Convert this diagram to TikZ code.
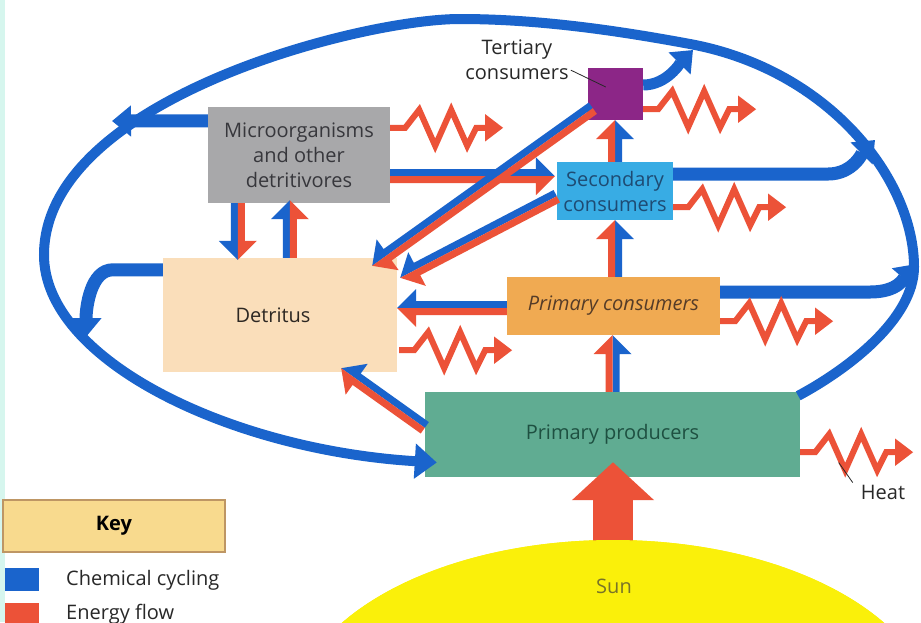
\documentclass[tikz,border=0pt]{standalone}
\usepackage{fontspec}
\setmainfont{Open Sans}
\usetikzlibrary{calc,arrows.meta,shapes.geometric}

\definecolor{chem}{RGB}{26,100,204}
\definecolor{energy}{RGB}{236,82,56}
\definecolor{microfill}{RGB}{168,168,170}
\definecolor{detfill}{RGB}{250,222,186}
\definecolor{tertfill}{RGB}{140,38,135}
\definecolor{secfill}{RGB}{56,172,228}
\definecolor{pcfill}{RGB}{240,170,82}
\definecolor{ppfill}{RGB}{96,172,146}
\definecolor{sunfill}{RGB}{250,240,10}
\definecolor{keyfill}{RGB}{248,218,142}
\definecolor{keyline}{RGB}{190,150,100}
\definecolor{edgestrip}{RGB}{214,246,238}
\definecolor{microtext}{RGB}{55,55,60}
\definecolor{dettext}{RGB}{45,40,35}
\definecolor{sectext}{RGB}{30,75,115}
\definecolor{pctext}{RGB}{85,60,40}
\definecolor{pptext}{RGB}{30,80,65}
\definecolor{suntext}{RGB}{120,115,40}
\definecolor{labeltext}{RGB}{40,40,40}

\tikzset{
  box/.style={rectangle, inner sep=0pt, align=center,
    font=\fontsize{20}{25}\selectfont},
  label/.style={inner sep=0pt, align=center, text=labeltext,
    font=\fontsize{20}{25}\selectfont},
  chemarrow/.style={draw=chem, line width=#1,
    -{Triangle[width=30pt,length=19pt]}},
  heatline/.style={draw=energy, line width=6pt, line join=miter,
    miter limit=10, -{Triangle[width=26pt,length=18pt]}},
  leader/.style={draw=labeltext, line width=0.8pt}
}

% paired flow: blue (chemicals) on one side of the axis, red (energy) on the other
\newcommand\duoarrow[4]{%
  \coordinate (da-a) at #1;
  \coordinate (da-b) at #2;
  \coordinate (da-q) at ($(da-b)!19pt!(da-a)$);
  \fill[chem] (da-a) -- ($(da-a)!7pt!#3:(da-b)$) -- ($(da-q)!7pt!#3:(da-b)$)
     -- ($(da-q)!19pt!#3:(da-b)$) -- (da-b) -- cycle;
  \fill[energy] (da-a) -- ($(da-a)!7pt!#4:(da-b)$) -- ($(da-q)!7pt!#4:(da-b)$)
     -- ($(da-q)!19pt!#4:(da-b)$) -- (da-b) -- cycle;
}

% zigzag heat loss arrow leaving a box
\newcommand\heatarrow[1]{%
  \draw[heatline] #1 -- ++(15,0) -- ++(14,-18) -- ++(16,36) -- ++(16,-36)
     -- ++(16,36) -- ++(9,-18) -- ++(27,0);
}

\begin{document}
\begin{tikzpicture}[x=1pt,y=-1pt]
\useasboundingbox (0,0) rectangle (921,622);
\clip (0,0) rectangle (921,622);
\fill[white] (0,0) rectangle (921,622);
\fill[edgestrip] (0,0) rectangle (5,622);

% trophic levels
\node[box, fill=microfill, text=microtext, minimum width=182pt, minimum height=96pt]
  (micro) at (299,155) {Microorganisms\\and other\\detritivores};
\node[box, fill=detfill, text=dettext, minimum width=234pt, minimum height=114pt]
  (det) at (280,315) {Detritus\hspace*{14pt}};
\node[box, fill=tertfill, minimum width=55pt, minimum height=52pt]
  (tert) at (615.5,94) {};
\node[box, fill=secfill, text=sectext, minimum width=116pt, minimum height=58pt]
  (sec) at (615,191) {Secondary\\consumers};
\node[box, fill=pcfill, text=pctext, minimum width=213pt, minimum height=58pt]
  (pc) at (613.5,306) {\itshape Primary consumers};
\node[box, fill=ppfill, text=pptext, minimum width=375pt, minimum height=85pt]
  (pp) at (612.5,434.5) {Primary producers};

% the sun and its light
\node[ellipse, fill=sunfill, minimum width=644pt, minimum height=360pt, inner sep=0pt]
  (sun) at (613,720) {};
\draw[draw=energy, line width=40pt, -{Triangle[width=80pt,length=38pt]}]
  ($(sun.north)+(0,8)$) -- ($(pp.south)+(0.5,-15)$);
\fill[sunfill] (613,720) ellipse [x radius=322pt, y radius=180pt];
\node[label, text=suntext] (sunlabel) at (614,586) {Sun};

% outer loop of chemical cycling, back to the producers
\coordinate (loopstart) at ($(pp.north east)+(-2,4)$);
\coordinate (loopend) at ($(pp.west)+(12,28)$);
\draw[chem, line width=10pt, -{Triangle[width=34pt,length=22pt]}]
  (loopstart) .. controls (850,368) and (914,318) .. (914,267)
  .. controls (914,180) and (830,70) .. (690,44)
  .. controls (620,31) and (540,19) .. (460,19)
  .. controls (360,19) and (44,100) .. (44,255)
  .. controls (44,360) and (230,450) .. (loopend);

% returns to the outer loop
\coordinate (e1) at (112,121);
\coordinate (e2) at (86,337);
\coordinate (e3) at (693,50);
\coordinate (e4) at (875,140);
\coordinate (e5) at (916,264);
\draw[chemarrow=13pt] ($(micro.north west)+(0,14)$) -- (e1);
\draw[chemarrow=13pt] ($(det.north west)+(0,12)$) -- ++(-50,0)
  .. controls +(-22,0) and +(0,-30) .. (e2);
\draw[chemarrow=11pt] ($(tert.east)+(0,-9)$) .. controls +(24,0) and +(-12,12) .. (e3);
\draw[chemarrow=13pt] ($(sec.east)+(0,-17)$) -- ++(155,0)
  .. controls +(25,0) and +(-12,12) .. (e4);
\draw[chemarrow=13pt] ($(pc.east)+(0,-14)$) -- ++(150,0)
  .. controls +(28,0) and +(-12,14) .. (e5);

% paired flows of chemicals and energy
\duoarrow{($(micro.south west)+(30,0)$)}{($(det.north west)+(75,2)$)}{-90}{90}
\duoarrow{($(det.north west)+(127,0)$)}{($(micro.south west)+(82,-3)$)}{90}{-90}
\duoarrow{($(micro.south east)+(0,-27)$)}{($(sec.south west)+(-2,-44)$)}{90}{-90}
\duoarrow{($(tert.south west)+(5,-12)$)}{($(det.north east)+(-25,8)$)}{-90}{90}
\duoarrow{($(sec.south west)+(0,-24)$)}{($(det.north east)+(3,20)$)}{-90}{90}
\duoarrow{($(pc.west)+(0,2)$)}{($(det.east)+(0,-7)$)}{-90}{90}
\duoarrow{($(pp.north west)+(0,36)$)}{($(det.south east)+(-56,-4)$)}{-90}{90}
\duoarrow{(pp.north)}{(pp.north |- pc.south)}{-90}{90}
\duoarrow{($(pc.north)+(1.5,0)$)}{($(sec.south)+(0,0)$)}{-90}{90}
\duoarrow{(sec.north)}{($(tert.south)+(-0.5,0)$)}{-90}{90}

% heat given off at every level
\heatarrow{($(micro.north east)+(0,21)$)}
\heatarrow{($(tert.south east)+(0,-11)$)}
\heatarrow{($(sec.south east)+(0,-13)$)}
\heatarrow{($(det.south east)+(2,-22)$)}
\heatarrow{($(pc.south east)+(0,-14)$)}
\heatarrow{($(pp.south east)+(0,-25)$)}

% labels with leader lines
\node[label] (tlabel) at (517,60) {Tertiary\\consumers};
\draw[leader] ($(tlabel.south east)+(2,-10)$) -- ($(tert.west)+(18,-7)$);
\node[label] (heatlabel) at (883,492) {Heat};
\draw[leader] ($(heatlabel.north west)+(-8,-2)$) -- ++(-14,-20);

% key
\node[box, fill=keyfill, draw=keyline, line width=1.5pt, text=black,
  minimum width=222pt, minimum height=52pt, font=\fontsize{20}{25}\selectfont\bfseries]
  (key) at (114,526) {Key};
\node[fill=chem, minimum width=34pt, minimum height=23pt, inner sep=0pt]
  (keychem) at (22,579) {};
\node[label, anchor=west] (keychemtext) at (66,580) {Chemical cycling};
\node[fill=energy, minimum width=34pt, minimum height=23pt, inner sep=0pt]
  (keyenergy) at (22,614) {};
\node[label, anchor=west] (keyenergytext) at (66,614) {Energy flow};
\end{tikzpicture}
\end{document}
